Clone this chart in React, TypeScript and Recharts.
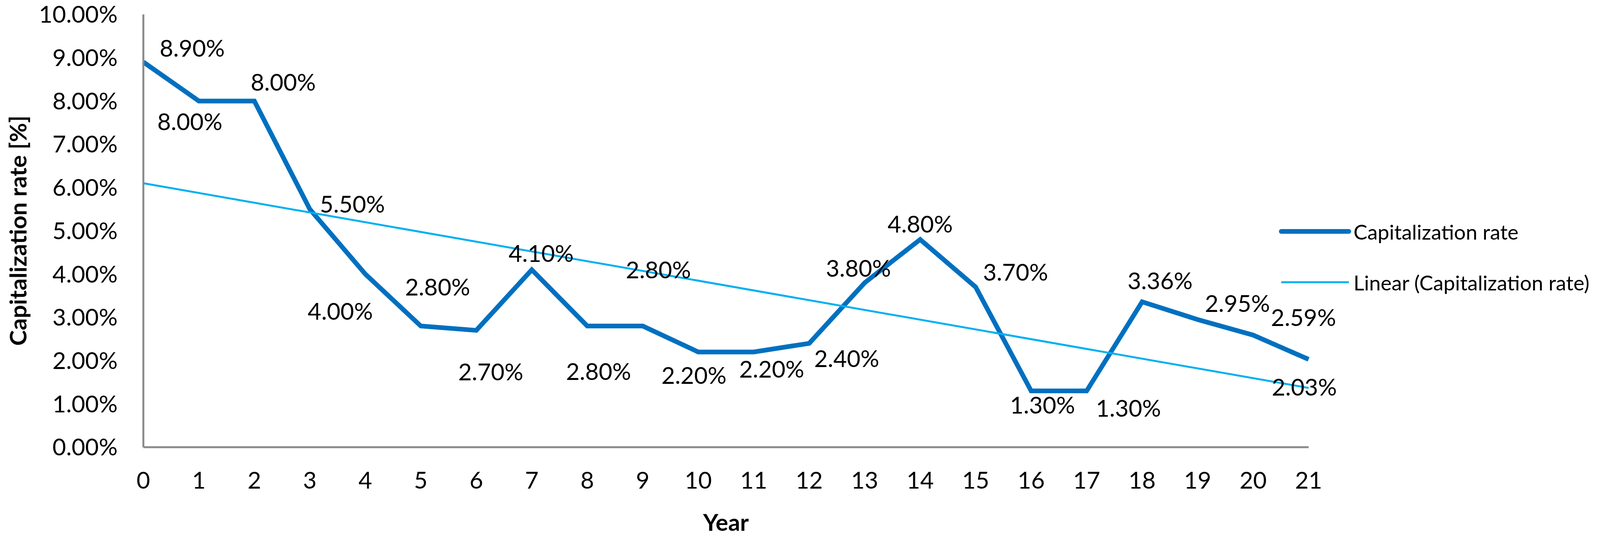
import React from 'react';
import {
  LineChart, Line, XAxis, YAxis, Legend, LabelList, Label,
} from 'recharts';

const years = [0, 1, 2, 3, 4, 5, 6, 7, 8, 9, 10, 11, 12, 13, 14, 15, 16, 17, 18, 19, 20, 21];
const capRate = [8.9, 8.0, 8.0, 5.5, 4.0, 2.8, 2.7, 4.1, 2.8, 2.8, 2.2, 2.2, 2.4, 3.8, 4.8, 3.7, 1.3, 1.3, 3.36, 2.95, 2.59, 2.03];
// linear trendline, read at its two ends
const trendYears = [0, 21];
const trendValues = [6.1, 1.37];
const yTicks = [0, 1, 2, 3, 4, 5, 6, 7, 8, 9, 10];

const data = years.map((year, i) => {
  const t = trendYears.indexOf(year);
  return { year, rate: capRate[i], trend: t >= 0 ? trendValues[t] : null };
});

// where excel put each data label, relative to its point
const LABEL_OFFSETS = [
  [125, -37], [-23, 52], [74, -49], [109, -14], [-64, 94], [43, -101],
  [37, 105], [24, -43], [29, 115], [40, -145], [-11, 59], [46, 43],
  [96, 38], [-16, -38], [0, -41], [102, -39], [29, 35], [107, 43],
  [46, -55], [102, -42], [129, -46], [-11, 70],
];

const FONT = "Lato, 'Noto Sans', sans-serif";
const DARK = '#0070C0';
const LIGHT = '#00B0F0';
const AXIS = '#898989';

const renderLabel = (props: any) => {
  const { x, y, value, index } = props;
  const [dx, dy] = LABEL_OFFSETS[index] || [0, -40];
  return (
    <text x={x + dx} y={y + dy} textAnchor="middle" dominantBaseline="central"
      fontFamily={FONT} fontSize={60} fill="#000">
      {`${Number(value).toFixed(2)}%`}
    </text>
  );
};

const renderLegend = () => (
  <div style={{ fontFamily: FONT, fontSize: 53, color: '#000', whiteSpace: 'nowrap', textAlign: 'left' }}>
    <div style={{ display: 'flex', alignItems: 'center', height: 130 }}>
      <svg width={191} height={20} style={{ flex: 'none' }}>
        <line x1={6} y1={10} x2={179} y2={10} stroke={DARK} strokeWidth={12} strokeLinecap="round" />
      </svg>
      <span>Capitalization rate</span>
    </div>
    <div style={{ display: 'flex', alignItems: 'center', height: 130 }}>
      <svg width={191} height={20} style={{ flex: 'none' }}>
        <line x1={6} y1={10} x2={179} y2={10} stroke={LIGHT} strokeWidth={5} />
      </svg>
      <span>Linear (Capitalization rate)</span>
    </div>
  </div>
);

export default function App() {
  return (
    <div style={{ position: 'absolute', left: 0, top: 0, background: '#fff' }}>
      <LineChart width={4203} height={1384} data={data}
        margin={{ top: 37, right: 853, bottom: 0, left: 100 }}>
        <XAxis dataKey="year" type="number" domain={[0, 21]} ticks={years}
          axisLine={{ stroke: AXIS, strokeWidth: 5 }} tickLine={false} tickSize={0} tickMargin={63}
          tick={{ fontFamily: FONT, fontSize: 60, fill: '#000' }} height={240}>
          <Label content={(p: any) => (
            <text x={p.viewBox.x + p.viewBox.width / 2} y={1335} textAnchor="middle" dominantBaseline="central"
              fontFamily={FONT} fontSize={60} fontWeight="bold" fill="#000">Year</text>
          )} />
        </XAxis>
        <YAxis type="number" domain={[0, 10]} ticks={yTicks} width={267}
          axisLine={{ stroke: AXIS, strokeWidth: 5 }} tickLine={false} tickSize={0} tickMargin={66}
          tickFormatter={(v: number) => `${v.toFixed(2)}%`}
          tick={{ fontFamily: FONT, fontSize: 60, fill: '#000' }}>
          <Label content={() => (
            <text x={45} y={590} textAnchor="middle" dominantBaseline="central"
              transform="rotate(-90 45 590)"
              fontFamily={FONT} fontSize={60} fontWeight="bold" fill="#000">Capitalization rate [%]</text>
          )} />
        </YAxis>
        <Legend content={renderLegend} layout="horizontal" verticalAlign="middle" align="center"
          wrapperStyle={{ position: 'absolute', left: 3274, top: 527, width: 929, margin: 0 }} />
        <Line dataKey="rate" name="Capitalization rate" stroke={DARK} strokeWidth={12}
          dot={false} activeDot={false} isAnimationActive={false}>
          <LabelList dataKey="rate" content={renderLabel} />
        </Line>
        <Line dataKey="trend" name="Linear (Capitalization rate)" stroke={LIGHT} strokeWidth={5}
          dot={false} activeDot={false} connectNulls isAnimationActive={false} />
      </LineChart>
    </div>
  );
}
